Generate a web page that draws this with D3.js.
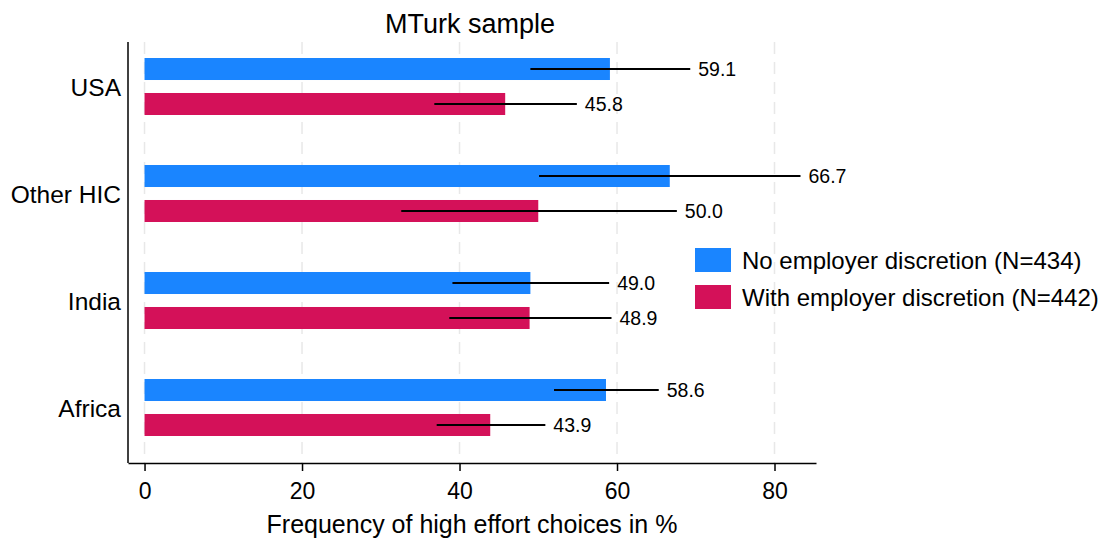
<!DOCTYPE html>
<html>
<head>
<meta charset="utf-8">
<script src="https://cdn.jsdelivr.net/npm/d3@7"></script>
<style>
  body { margin: 0; background: #fff; }
  svg { font-family: "Liberation Sans", Arial, Helvetica, sans-serif; }
</style>
</head>
<body>
<svg id="chart" width="1120" height="540"></svg>
<script>
const categories = ["USA", "Other HIC", "India", "Africa"];
const seriesNames = ["No employer discretion (N=434)", "With employer discretion (N=442)"];
const noDiscretion = [59.1, 66.7, 49.0, 58.6];
const withDiscretion = [45.8, 50.0, 48.9, 43.9];
const noDiscLow = [49.0, 50.1, 39.1, 52.0];
const noDiscHigh = [69.3, 83.3, 59.0, 65.3];
const withDiscLow = [36.8, 32.6, 38.7, 37.1];
const withDiscHigh = [54.9, 67.6, 59.3, 50.9];
const xTicks = [0, 20, 40, 60, 80];
const colors = ["#1A85FF", "#D41159"];

const svg = d3.select("#chart");

const x = d3.scaleLinear().domain([-2.1, 85.27]).range([128, 816]);
const y = d3.scaleBand().domain(categories).range([33, 461]).padding(0);
const inner = d3.scaleBand().domain([0, 1]).range([-28.5, 28.5]).paddingInner(0.371).paddingOuter(0);

const plotTop = 42, plotBottom = 463;

// grid
svg.append("g").selectAll("line").data(xTicks).join("line")
  .attr("x1", d => x(d)).attr("x2", d => x(d))
  .attr("y1", plotTop).attr("y2", plotBottom)
  .attr("stroke", "#e8e8e8").attr("stroke-width", 1.5)
  .attr("stroke-dasharray", "12,8");

const rows = [];
categories.forEach((c, i) => {
  rows.push({cat: c, s: 0, v: noDiscretion[i], lo: noDiscLow[i], hi: noDiscHigh[i]});
  rows.push({cat: c, s: 1, v: withDiscretion[i], lo: withDiscLow[i], hi: withDiscHigh[i]});
});
const yc = d => y(d.cat) + y.bandwidth() / 2 + inner(d.s);

// bars
svg.append("g").selectAll("rect").data(rows).join("rect")
  .attr("x", x(0)).attr("y", d => yc(d))
  .attr("width", d => x(d.v) - x(0))
  .attr("height", inner.bandwidth())
  .attr("fill", d => colors[d.s]);

// error bars
svg.append("g").selectAll("line").data(rows).join("line")
  .attr("x1", d => x(d.lo)).attr("x2", d => x(d.hi))
  .attr("y1", d => yc(d) + inner.bandwidth() / 2)
  .attr("y2", d => yc(d) + inner.bandwidth() / 2)
  .attr("stroke", "#000").attr("stroke-width", 2);

// value labels
svg.append("g").selectAll("text").data(rows).join("text")
  .attr("x", d => x(d.hi) + 8)
  .attr("y", d => yc(d) + inner.bandwidth() / 2)
  .attr("dy", "0.36em")
  .attr("font-size", 19.5)
  .attr("fill", "#000")
  .text(d => d.v.toFixed(1));

// x axis
const xAxis = d3.axisBottom(x).tickValues(xTicks).tickSize(8).tickSizeOuter(0).tickPadding(12);
const gx = svg.append("g").attr("transform", `translate(0,${plotBottom})`).call(xAxis);
gx.select(".domain").attr("stroke", "#000").attr("stroke-width", 1.5);
gx.selectAll(".tick line").attr("stroke", "#000").attr("stroke-width", 1.5);
gx.selectAll(".tick text").attr("font-size", 23).attr("fill", "#000").attr("font-family", "Liberation Sans, Arial, sans-serif");

// y axis
const yAxis = d3.axisLeft(y).tickSize(0).tickPadding(7).tickSizeOuter(0);
const gy = svg.append("g").attr("transform", `translate(128,0)`).call(yAxis);
gy.select(".domain").attr("d", `M0,${plotTop}V${plotBottom}`).attr("stroke", "#000").attr("stroke-width", 1.5);
gy.selectAll(".tick text").attr("font-size", 24.5).attr("fill", "#000").attr("dy", "0.38em").attr("font-family", "Liberation Sans, Arial, sans-serif");

// title
svg.append("text").attr("x", 470).attr("y", 33).attr("text-anchor", "middle")
  .attr("font-size", 27).attr("fill", "#000").text("MTurk sample");

// x title
svg.append("text").attr("x", 472).attr("y", 533).attr("text-anchor", "middle")
  .attr("font-size", 25).attr("fill", "#000").text("Frequency of high effort choices in %");

// legend
const lg = svg.append("g").attr("transform", "translate(695,248)");
seriesNames.forEach((n, i) => {
  lg.append("rect").attr("x", 0).attr("y", i * 37).attr("width", 36).attr("height", 24).attr("fill", colors[i]);
  lg.append("text").attr("x", 47).attr("y", i * 37 + 12).attr("dy", "0.36em")
    .attr("font-size", 24).attr("fill", "#000").text(n);
});
</script>
</body>
</html>
